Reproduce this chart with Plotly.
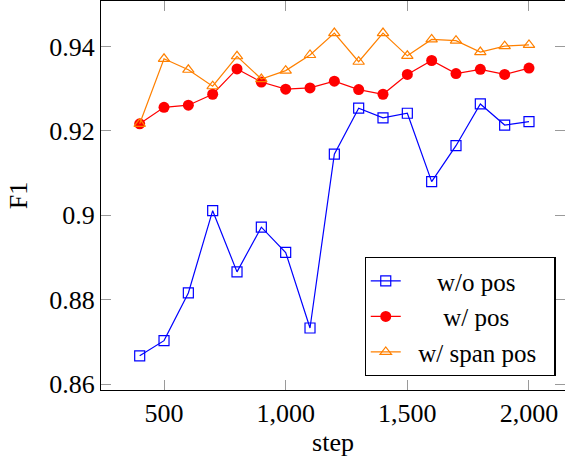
import plotly.graph_objects as go

steps = [400, 500, 600, 700, 800, 900, 1000, 1100, 1200, 1300, 1400, 1500, 1600, 1700, 1800, 1900, 2000]
wo_pos = [0.8667, 0.8703, 0.8816, 0.9011, 0.8866, 0.8972, 0.8912, 0.8733, 0.9145, 0.9254, 0.9231, 0.9242, 0.9080, 0.9165, 0.9264, 0.9214, 0.9222]
w_pos = [0.9217, 0.9256, 0.9261, 0.9287, 0.9347, 0.9316, 0.9299, 0.9302, 0.9318, 0.9298, 0.9287, 0.9334, 0.9367, 0.9336, 0.9346, 0.9334, 0.9349]
w_span_pos = [0.9217, 0.9371, 0.9345, 0.9306, 0.9377, 0.9323, 0.9343, 0.9380, 0.9432, 0.9364, 0.9432, 0.9378, 0.9417, 0.9414, 0.9387, 0.9401, 0.9404]

names = ["w/o pos", "w/ pos", "w/ span pos"]
x_tickvals = [500, 1000, 1500, 2000]
x_ticktext = ["500", "1,000", "1,500", "2,000"]
y_tickvals = [0.86, 0.88, 0.90, 0.92, 0.94]
y_ticktext = ["0.86", "0.88", "0.9", "0.92", "0.94"]

NB = "\u00a0"
# leading / trailing non-breaking spaces to centre the legend labels as in the reference
lead = [NB * 5, NB * 6, NB * 2]
trail = ["", "", NB * 2]

FONT = "Liberation Serif, Times New Roman, serif"
FS = 26
LFS = 25

fig = go.Figure()
fig.add_trace(go.Scatter(
    x=steps, y=wo_pos, name=lead[0] + names[0] + trail[0], mode="lines+markers",
    line=dict(color="#0000ff", width=1.2),
    marker=dict(symbol="square-open", size=10, color="#0000ff", line=dict(width=1.2)),
))
fig.add_trace(go.Scatter(
    x=steps, y=w_pos, name=lead[1] + names[1] + trail[1], mode="lines+markers",
    line=dict(color="#ff0000", width=1.2),
    marker=dict(symbol="circle", size=11, color="#ff0000"),
))
fig.add_trace(go.Scatter(
    x=steps, y=w_span_pos, name=lead[2] + names[2] + trail[2], mode="lines+markers",
    line=dict(color="#ff8000", width=1.2),
    marker=dict(symbol="triangle-up-open", size=10, color="#ff8000", line=dict(width=1.2)),
))

axis_common = dict(
    showgrid=False, zeroline=False, showline=True, linecolor="black", linewidth=1.2,
    mirror="ticks", ticks="inside", ticklen=10, tickwidth=1, tickcolor="#9a9a9a",
    tickfont=dict(family=FONT, size=FS, color="black"), automargin=False,
)

fig.update_layout(
    width=565, height=459, autosize=False,
    margin=dict(l=101, r=0, t=1, b=69),
    paper_bgcolor="white", plot_bgcolor="white",
    font=dict(family=FONT, size=FS, color="black"),
    xaxis=dict(range=[241, 2148], tickvals=x_tickvals, ticktext=x_ticktext,
               title=dict(text="step", font=dict(family=FONT, size=FS), standoff=2),
               **axis_common),
    yaxis=dict(range=[0.8586, 0.9508], tickvals=y_tickvals, ticktext=y_ticktext,
               title=dict(text="F1", font=dict(family=FONT, size=FS), standoff=14),
               **axis_common),
    legend=dict(x=0.568, y=0.036, xanchor="left", yanchor="bottom",
                bgcolor="white", bordercolor="black", borderwidth=1.2,
                font=dict(family=FONT, size=LFS, color="black"),
                tracegroupgap=0),
    showlegend=True,
)

fig.write_html("out.html", config={"displayModeBar": False},
               post_script="document.body.style.margin='0';document.body.style.overflow='hidden';")
